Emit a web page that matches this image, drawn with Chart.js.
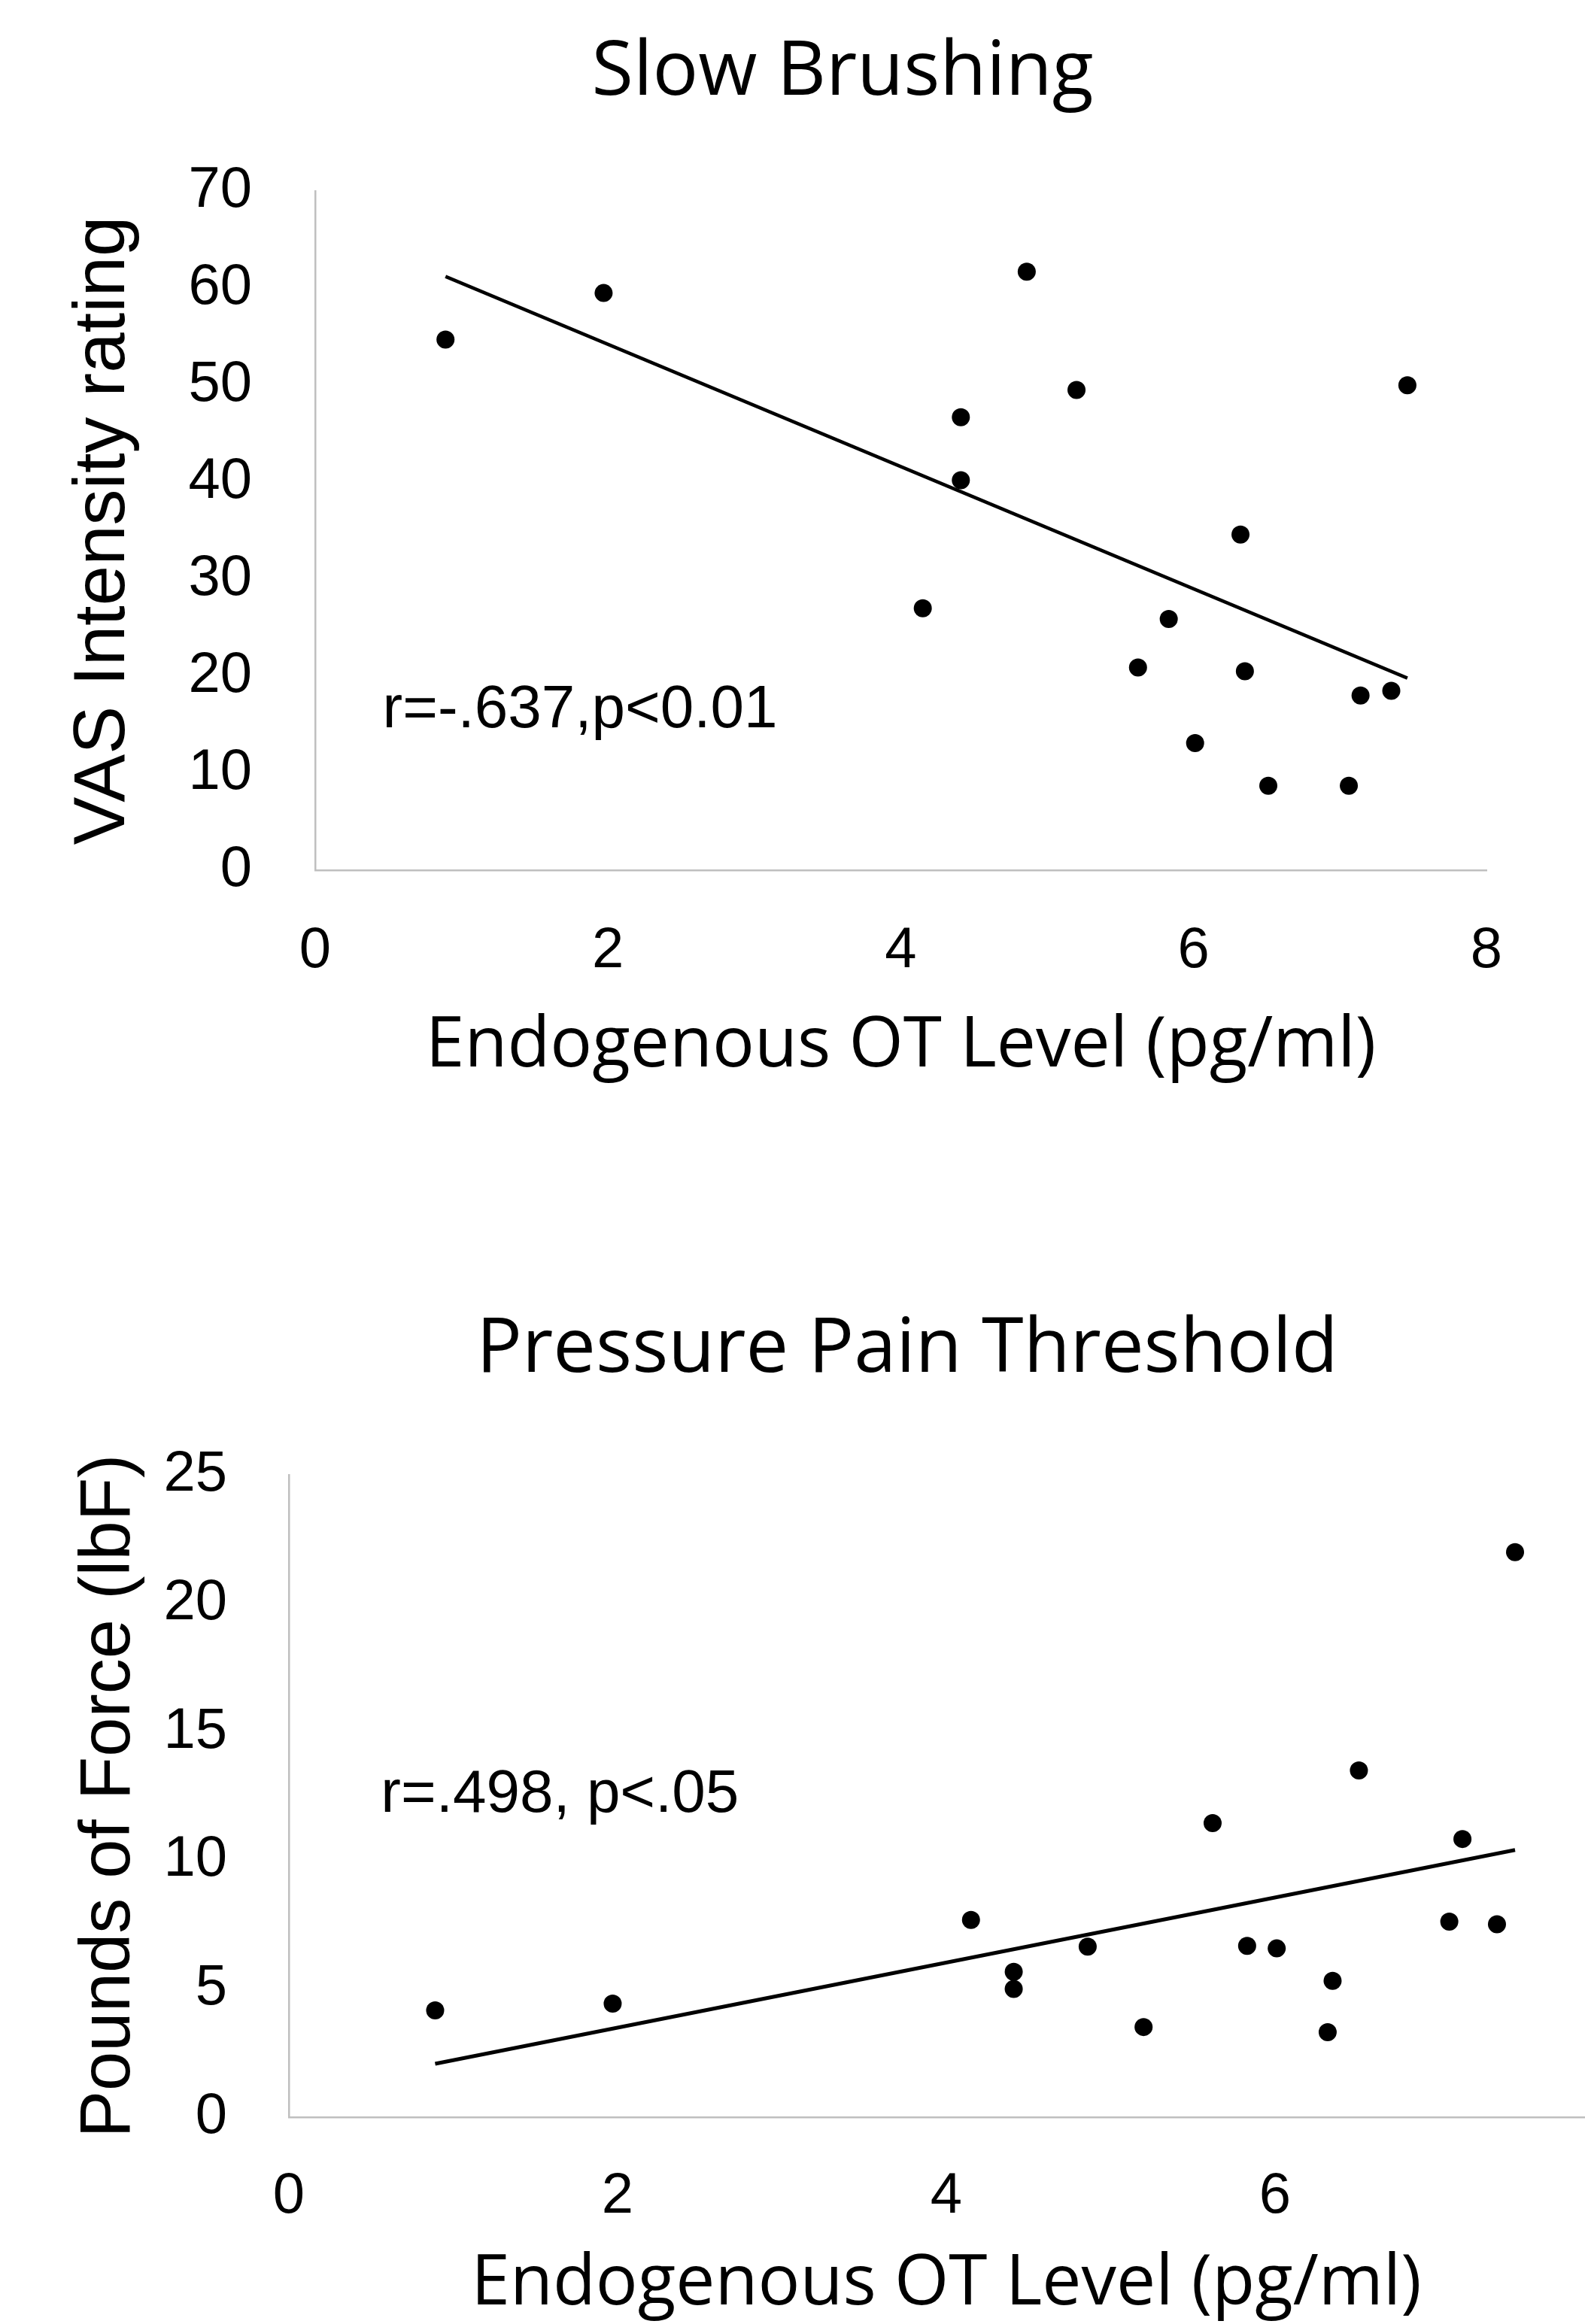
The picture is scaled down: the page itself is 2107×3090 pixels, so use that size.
<!DOCTYPE html>
<html>
<head>
<meta charset="utf-8">
<title>Slow Brushing / Pressure Pain Threshold</title>
<script src="https://cdn.jsdelivr.net/npm/chart.js@4.4.1/dist/chart.umd.min.js"></script>
<style>
  html, body { margin: 0; padding: 0; background: #fff; overflow: hidden; }
  body { width: 2107px; height: 3090px; position: relative; }
  canvas { position: absolute; left: 0; }
  #brushChart { top: 0; }
  #pressureChart { top: 1500px; }
</style>
</head>
<body>
<canvas id="brushChart" width="2240" height="1447"></canvas>
<canvas id="pressureChart" width="2412" height="1593"></canvas>
<script>
// one entry per subject, sorted by OT level (same x values in both panels)
const otLevel = [0.89, 1.97, 4.15, 4.41, 4.41, 4.86, 5.20, 5.62, 5.83, 6.01, 6.32, 6.35, 6.51, 7.06, 7.14, 7.35, 7.46];
const vasRating = [54.7, 59.5, 27.0, 46.7, 40.2, 61.7, 49.5, 20.9, 25.9, 13.1, 34.6, 20.5, 8.7, 8.7, 18.0, 18.5, 50.0];
const poundsForce = [4.16, 4.42, 7.68, 5.66, 4.99, 6.64, 3.51, 11.45, 6.67, 6.57, 3.31, 5.31, 13.5, 7.61, 10.83, 7.51, 22.0];

// trend line end points as drawn
const trendX = [0.89, 7.46];
const vasTrend = [61.2, 19.8];
const forceTrend = [2.08, 10.40];

const xTicks = [0, 2, 4, 6, 8];
const vasTicks = [0, 10, 20, 30, 40, 50, 60, 70];
const forceTicks = [0, 5, 10, 15, 20, 25];

const TITLE_FONT = '"Open Sans", "Noto Sans", sans-serif';
const LABEL_FONT = '"Liberation Sans", Arial, sans-serif';
const AXIS_GREY = '#bfbfbf';

Chart.defaults.color = '#000';

// r / p annotation, anchored in data units
const noteLabel = {
  id: 'noteLabel',
  afterDatasetsDraw(chart, args, opts) {
    if (!opts.text) return;
    const { ctx, scales } = chart;
    ctx.save();
    ctx.font = '80px ' + LABEL_FONT;
    ctx.fillStyle = '#000';
    ctx.textAlign = 'left';
    ctx.textBaseline = 'alphabetic';
    ctx.fillText(opts.text, scales.x.getPixelForValue(opts.x), scales.y.getPixelForValue(opts.y));
    ctx.restore();
  }
};

function renderScatter(id, cfg) {
  const ctx = document.getElementById(id).getContext('2d');
  return new Chart(ctx, {
    type: 'scatter',
    data: {
      datasets: [
        {
          data: otLevel.map((x, i) => ({ x, y: cfg.values[i] })),
          backgroundColor: '#000',
          borderWidth: 0,
          pointRadius: 12,
          pointHoverRadius: 12,
          order: 2
        },
        {
          data: trendX.map((x, i) => ({ x, y: cfg.trend[i] })),
          showLine: true,
          borderColor: '#000',
          borderWidth: cfg.trendWidth,
          pointRadius: 0,
          pointHoverRadius: 0,
          order: 1
        }
      ]
    },
    options: {
      responsive: false,
      animation: false,
      devicePixelRatio: 1,
      layout: { padding: 0 },
      plugins: {
        legend: { display: false },
        tooltip: { enabled: false },
        title: {
          display: true,
          text: cfg.title,
          color: '#000',
          font: { family: TITLE_FONT, size: 101, weight: 'normal' },
          padding: cfg.titlePad
        },
        noteLabel: cfg.note
      },
      scales: {
        x: {
          type: 'linear',
          min: 0,
          max: 8,
          grid: { display: false, drawTicks: false },
          border: { color: AXIS_GREY, width: 2.5 },
          ticks: { padding: cfg.xTickPad, font: { family: LABEL_FONT, size: 76 }, color: '#000' },
          afterBuildTicks: s => { s.ticks = xTicks.map(value => ({ value })); },
          title: {
            display: true,
            text: 'Endogenous OT Level (pg/ml)',
            color: '#000',
            font: { family: TITLE_FONT, size: 93 },
            padding: 0
          },
          afterFit: s => { s.height = cfg.xHeight; }
        },
        y: {
          type: 'linear',
          min: 0,
          max: cfg.yMax,
          grid: { display: false, drawTicks: false },
          border: { color: AXIS_GREY, width: 2.5 },
          ticks: { padding: cfg.yTickPad, font: { family: LABEL_FONT, size: 76 }, color: '#000' },
          afterBuildTicks: s => { s.ticks = cfg.yTicks.map(value => ({ value })); },
          title: {
            display: true,
            text: cfg.yTitle,
            color: '#000',
            font: { family: LABEL_FONT, size: cfg.yTitleSize },
            padding: { top: cfg.yTitlePad, bottom: 0 }
          },
          afterFit: s => { s.width = cfg.yWidth; }
        },
        // empty right-hand box so the chart title centres like the original
        pad: {
          type: 'linear',
          position: 'right',
          grid: { display: false, drawTicks: false },
          border: { display: false },
          ticks: { display: false },
          afterFit: s => { s.width = cfg.rightGap; }
        }
      }
    },
    plugins: [noteLabel]
  });
}

renderScatter('brushChart', {
  title: 'Slow Brushing',
  titlePad: { top: 37, bottom: 96 },
  values: vasRating,
  trend: vasTrend,
  trendWidth: 4.5,
  yMax: 70,
  yTicks: vasTicks,
  yTitle: 'VAS Intensity rating',
  yTitleSize: 96,
  yTitlePad: 81,
  yWidth: 419,
  yTickPad: 84,
  xTickPad: 62,
  xHeight: 290,
  rightGap: 264,
  note: { text: 'r=-.637,p<0.01', x: 0.46, y: 14.7 }
});

renderScatter('pressureChart', {
  title: 'Pressure Pain Threshold',
  titlePad: { top: 235, bottom: 105 },
  values: poundsForce,
  trend: forceTrend,
  trendWidth: 5,
  yMax: 25,
  yTicks: forceTicks,
  yTitle: 'Pounds of Force (lbF)',
  yTitleSize: 94,
  yTitlePad: 90,
  yWidth: 384,
  yTickPad: 82,
  xTickPad: 60,
  xHeight: 278,
  rightGap: 280,
  note: { text: 'r=.498, p<.05', x: 0.56, y: 11.9 }
});
</script>
</body>
</html>
